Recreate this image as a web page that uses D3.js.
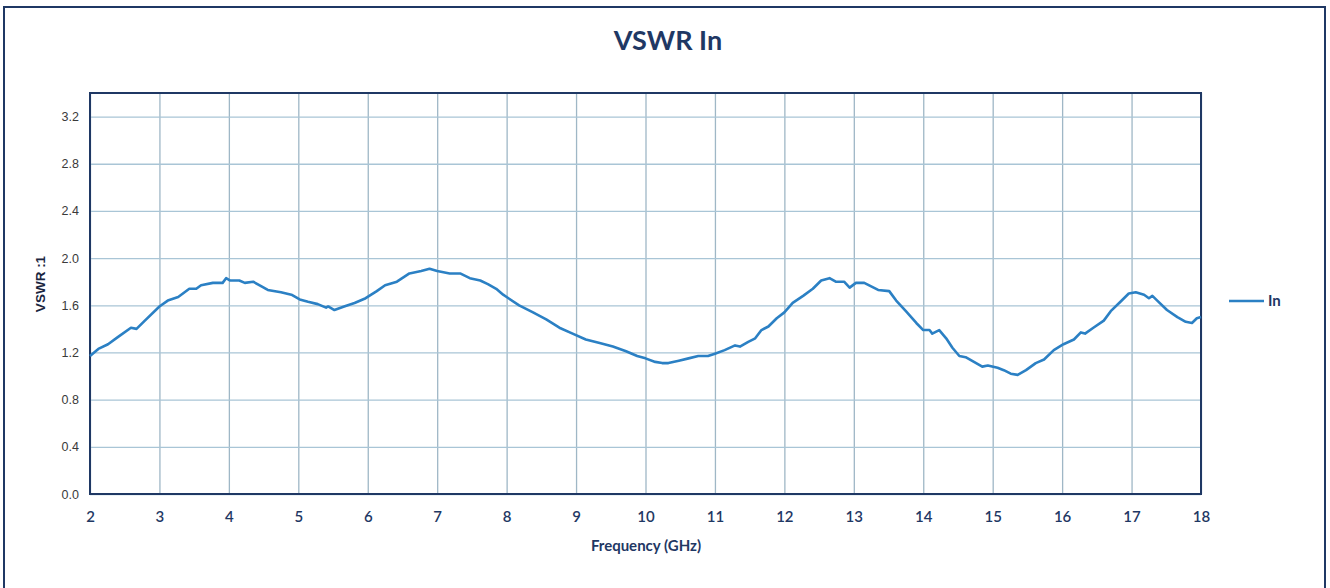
<!DOCTYPE html>
<html>
<head>
<meta charset="utf-8">
<script src="https://cdn.jsdelivr.net/npm/d3@7"></script>
<style>
  html, body { margin: 0; padding: 0; background: #ffffff; }
  svg { display: block; }
</style>
</head>
<body>
<svg id="chart" width="1330" height="588"></svg>
<script>
const chartTitle = "VSWR In";
const xAxisTitle = "Frequency (GHz)";
const yAxisTitle = "VSWR :1";
const seriesName = "In";
const xTicks = [2, 3, 4, 5, 6, 7, 8, 9, 10, 11, 12, 13, 14, 15, 16, 17, 18];
const yTicks = [0.0, 0.4, 0.8, 1.2, 1.6, 2.0, 2.4, 2.8, 3.2];

const frequency = [
  2.00, 2.12, 2.26, 2.40, 2.59, 2.67, 2.79, 3.00, 3.12, 3.27, 3.43, 3.53, 3.60, 3.77, 3.91, 3.96,
  4.02, 4.15, 4.23, 4.35, 4.47, 4.56, 4.75, 4.90, 5.02, 5.14, 5.28, 5.40, 5.43, 5.52, 5.66, 5.81,
  5.97, 6.13, 6.25, 6.42, 6.60, 6.77, 6.89, 7.00, 7.18, 7.33, 7.47, 7.62, 7.73, 7.85, 7.95, 8.00,
  8.18, 8.38, 8.57, 8.76, 8.95, 9.14, 9.34, 9.53, 9.72, 9.88, 10.00, 10.14, 10.24, 10.33, 10.48,
  10.62, 10.76, 10.90, 11.00, 11.14, 11.29, 11.36, 11.48, 11.58, 11.67, 11.77, 11.89, 12.00, 12.12,
  12.27, 12.41, 12.53, 12.65, 12.74, 12.86, 12.94, 13.03, 13.15, 13.35, 13.51, 13.61, 13.75, 13.90,
  14.00, 14.09, 14.13, 14.23, 14.33, 14.42, 14.52, 14.61, 14.73, 14.85, 14.93, 15.07, 15.16, 15.26,
  15.36, 15.48, 15.62, 15.74, 15.88, 16.02, 16.17, 16.27, 16.33, 16.45, 16.60, 16.70, 16.84, 16.96,
  17.06, 17.18, 17.25, 17.30, 17.37, 17.51, 17.66, 17.78, 17.87, 17.94, 18.00
];
const vswrIn = [
  1.17, 1.23, 1.27, 1.33, 1.41, 1.40, 1.47, 1.59, 1.64, 1.67, 1.74, 1.74, 1.77, 1.79, 1.79, 1.83,
  1.81, 1.81, 1.79, 1.80, 1.76, 1.73, 1.71, 1.69, 1.65, 1.63, 1.61, 1.58, 1.59, 1.56, 1.59, 1.62,
  1.66, 1.72, 1.77, 1.80, 1.87, 1.89, 1.91, 1.89, 1.87, 1.87, 1.83, 1.81, 1.78, 1.74, 1.69, 1.67,
  1.60, 1.54, 1.48, 1.41, 1.36, 1.31, 1.28, 1.25, 1.21, 1.17, 1.15, 1.12, 1.11, 1.11, 1.13,
  1.15, 1.17, 1.17, 1.19, 1.22, 1.26, 1.25, 1.29, 1.32, 1.39, 1.42, 1.49, 1.54, 1.62,
  1.68, 1.74, 1.81, 1.83, 1.80, 1.80, 1.75, 1.79, 1.79, 1.73, 1.72, 1.64, 1.55, 1.45,
  1.39, 1.39, 1.36, 1.39, 1.32, 1.24, 1.17, 1.16, 1.12, 1.08, 1.09, 1.07, 1.05, 1.02,
  1.01, 1.05, 1.11, 1.14, 1.22, 1.27, 1.31, 1.37, 1.36, 1.41, 1.47, 1.55, 1.63, 1.70,
  1.71, 1.69, 1.66, 1.68, 1.64, 1.56, 1.50, 1.46, 1.45, 1.49, 1.50
];

const svg = d3.select("#chart");
const W = 1330, H = 588;
const plot = { left: 90, right: 1201, top: 93, bottom: 494 };

const navy = "#1f3864";
const gridColor = "#a9c5d6";
const lineColor = "#2b80c4";

// outer chart border
svg.append("rect")
  .attr("x", 4).attr("y", 7)
  .attr("width", 1321).attr("height", 600)
  .attr("fill", "#ffffff")
  .attr("stroke", navy).attr("stroke-width", 2);

const x = d3.scaleLinear().domain([2, 18]).range([plot.left, plot.right]);
const y = d3.scaleLinear().domain([0, 3.4]).range([plot.bottom, plot.top]);

// gridlines
const gx = svg.append("g")
  .attr("transform", `translate(0,${plot.bottom})`)
  .call(d3.axisBottom(x).tickValues(xTicks).tickSize(-(plot.bottom - plot.top)).tickFormat(""));
gx.select(".domain").remove();
gx.selectAll("line").attr("stroke", "#9fb7c6").attr("stroke-width", 1.3);

const gy = svg.append("g")
  .attr("transform", `translate(${plot.left},0)`)
  .call(d3.axisLeft(y).tickValues(yTicks).tickSize(-(plot.right - plot.left)).tickFormat(""));
gy.select(".domain").remove();
gy.selectAll("line").attr("stroke", gridColor).attr("stroke-width", 1.3);

// tick labels
const xl = svg.append("g")
  .attr("transform", `translate(0,${plot.bottom})`)
  .call(d3.axisBottom(x).tickValues(xTicks).tickSize(0).tickPadding(17).tickFormat(d3.format("d")));
xl.select(".domain").remove();
xl.selectAll("text")
  .attr("font-family", "Lato, 'Open Sans', sans-serif")
  .attr("font-size", 15).attr("font-weight", 600)
  .attr("fill", navy);

const yl = svg.append("g")
  .attr("transform", `translate(${plot.left},0)`)
  .call(d3.axisLeft(y).tickValues(yTicks).tickSize(0).tickPadding(11).tickFormat(d3.format(".1f")));
yl.select(".domain").remove();
yl.selectAll("text")
  .attr("font-family", "'Liberation Sans', Arial, sans-serif")
  .attr("font-size", 12.5)
  .attr("fill", "#3a3a3a");

// plot border
svg.append("rect")
  .attr("x", plot.left).attr("y", plot.top)
  .attr("width", plot.right - plot.left).attr("height", plot.bottom - plot.top)
  .attr("fill", "none").attr("stroke", navy).attr("stroke-width", 2);

// series line
const data = frequency.map((f, i) => ({ f, v: vswrIn[i] }));
svg.append("path")
  .datum(data)
  .attr("fill", "none")
  .attr("stroke", lineColor)
  .attr("stroke-width", 2.6)
  .attr("stroke-linejoin", "round")
  .attr("d", d3.line().x(d => x(d.f)).y(d => y(d.v)));

// title
svg.append("text")
  .attr("x", 668).attr("y", 50)
  .attr("text-anchor", "middle")
  .attr("font-family", "Lato, sans-serif")
  .attr("font-weight", 700).attr("font-size", 27)
  .attr("fill", navy)
  .text(chartTitle);

// x axis title
svg.append("text")
  .attr("x", 646).attr("y", 551)
  .attr("text-anchor", "middle")
  .attr("font-family", "Lato, sans-serif")
  .attr("font-weight", 700).attr("font-size", 15)
  .attr("fill", navy)
  .text(xAxisTitle);

// y axis title
svg.append("text")
  .attr("transform", `translate(45,${284}) rotate(-90)`)
  .attr("text-anchor", "middle")
  .attr("font-family", "'Liberation Sans', Arial, sans-serif")
  .attr("font-weight", 700).attr("font-size", 13.5)
  .attr("fill", "#1a2540")
  .text(yAxisTitle);

// legend
const lg = svg.append("g");
lg.append("line")
  .attr("x1", 1229).attr("x2", 1264).attr("y1", 301).attr("y2", 301)
  .attr("stroke", lineColor).attr("stroke-width", 2.6);
lg.append("text")
  .attr("x", 1268).attr("y", 306)
  .attr("font-family", "Lato, sans-serif")
  .attr("font-weight", 700).attr("font-size", 15)
  .attr("fill", navy)
  .text(seriesName);
</script>
</body>
</html>
